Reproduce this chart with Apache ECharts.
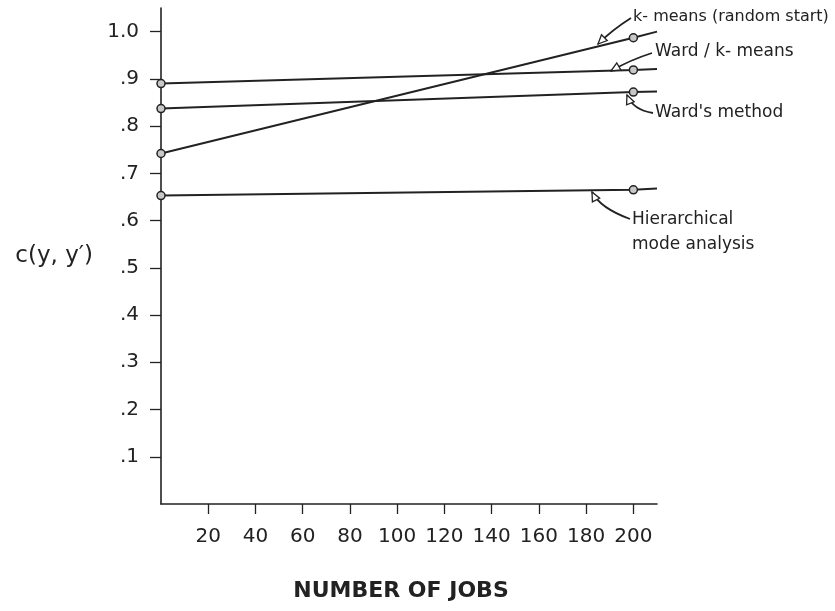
<!DOCTYPE html>
<html>
<head>
<meta charset="utf-8">
<script src="https://cdn.jsdelivr.net/npm/echarts@6/dist/echarts.min.js"></script>
<style>html,body{margin:0;padding:0;background:#fff}#c{width:835px;height:611px}</style>
</head>
<body>
<div id="c"></div>
<script>
// Data
var jobs = [0, 200, 210];
var kmeansRandom = [0.742, 0.987, 1.0];
var wardKmeans = [0.890, 0.919, 0.921];
var wardMethod = [0.837, 0.872, 0.873];
var hierarchical = [0.653, 0.665, 0.668];
var xTicks = [20, 40, 60, 80, 100, 120, 140, 160, 180, 200];
var yTicks = [0.1, 0.2, 0.3, 0.4, 0.5, 0.6, 0.7, 0.8, 0.9, 1.0];
var markerJobs = [0, 200];

var ink = '#222';
var font = 'DejaVu Sans';

function mk(vals) {
  return jobs.map(function (x, i) {
    var item = { value: [x, vals[i]] };
    if (markerJobs.indexOf(x) < 0) item.symbol = 'none';
    return item;
  });
}
function line(name, vals) {
  return {
    name: name, type: 'line', data: mk(vals),
    symbol: 'circle', symbolSize: 8,
    itemStyle: { color: '#c8c8c8', borderColor: ink, borderWidth: 1.5 },
    lineStyle: { color: ink, width: 2 },
    silent: true, animation: false, z: 3
  };
}

var chart = echarts.init(document.getElementById('c'), null, { renderer: 'canvas' });

function arrowHead(tip, from, size) {
  var dx = tip[0] - from[0], dy = tip[1] - from[1];
  var len = Math.sqrt(dx * dx + dy * dy); dx /= len; dy /= len;
  var px = -dy, py = dx;
  var b = [tip[0] - dx * size, tip[1] - dy * size];
  return {
    type: 'polygon', z: 10,
    shape: { points: [tip, [b[0] + px * size * 0.45, b[1] + py * size * 0.45], [b[0] - px * size * 0.45, b[1] - py * size * 0.45]] },
    style: { fill: '#fff', stroke: ink, lineWidth: 1.3 }
  };
}
function leader(start, ctrl, tip) {
  return [
    { type: 'bezierCurve', z: 9, shape: { x1: start[0], y1: start[1], x2: tip[0], y2: tip[1], cpx1: ctrl[0], cpy1: ctrl[1] },
      style: { stroke: ink, lineWidth: 1.8, fill: null } },
    arrowHead(tip, ctrl, 9)
  ];
}
function label(text, x, y, size) {
  return { type: 'text', x: x, y: y, z: 10,
    style: { text: text, font: (size || 17) + 'px "' + font + '"', fill: ink, textVerticalAlign: 'middle', verticalAlign: 'middle' } };
}

var graphics = []
  .concat(leader([631, 18], [612, 30], [598, 44]))
  .concat(leader([652, 53], [630, 60], [611, 71]))
  .concat(leader([653, 113], [633, 110], [627, 95]))
  .concat(leader([630, 219], [600, 208], [592, 192]))
  .concat([
    label('k- means (random start)', 633, 17, 16),
    label("Ward / k- means", 655, 52),
    label("Ward's method", 655, 113),
    label('Hierarchical', 632, 220),
    label('mode analysis', 632, 245)
  ]);

chart.setOption({
  animation: false,
  backgroundColor: '#fff',
  grid: { left: 161, right: 178, top: 8, bottom: 107, containLabel: false, outerBoundsMode: 'none' },
  xAxis: {
    type: 'value', min: 0, max: 210,
    name: 'NUMBER OF JOBS', nameLocation: 'middle', nameGap: 76,
    nameTextStyle: { fontFamily: font, fontSize: 22, fontWeight: 'bold', color: ink, padding: [0, 16, 0, 0] },
    axisLine: { show: true, lineStyle: { color: ink, width: 1.6 } },
    axisTick: { show: true, inside: false, length: 10, customValues: xTicks, lineStyle: { color: ink, width: 1.3 } },
    axisLabel: { customValues: xTicks, margin: 23, fontFamily: font, fontSize: 20, color: ink },
    splitLine: { show: false }
  },
  yAxis: {
    type: 'value', min: 0, max: 1.05,
    name: "c(y, y′)", nameLocation: 'middle', nameRotate: 0, nameGap: 68,
    nameTextStyle: { fontFamily: font, fontSize: 23, color: ink, align: 'right' },
    axisLine: { show: true, lineStyle: { color: ink, width: 1.6 } },
    axisTick: { show: true, length: 11, customValues: yTicks, lineStyle: { color: ink, width: 1.3 } },
    axisLabel: {
      customValues: yTicks, margin: 22, fontFamily: font, fontSize: 20, color: ink,
      formatter: function (v) { return Math.abs(v - 1) < 1e-9 ? '1.0' : '.' + Math.round(v * 10); }
    },
    splitLine: { show: false }
  },
  series: [
    line('k-means (random start)', kmeansRandom),
    line('Ward / k-means', wardKmeans),
    line("Ward's method", wardMethod),
    line('Hierarchical mode analysis', hierarchical)
  ],
  graphic: graphics
});
</script>
</body>
</html>
